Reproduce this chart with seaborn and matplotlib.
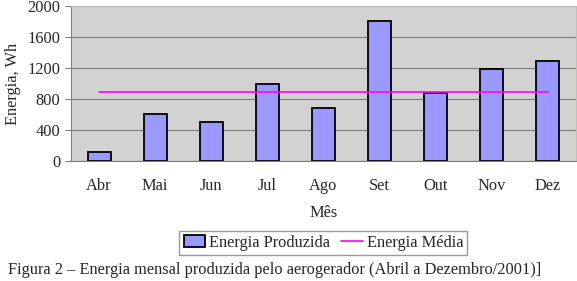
import matplotlib
matplotlib.use("Agg")
import matplotlib.pyplot as plt
import seaborn as sns
import pandas as pd

meses = ["Abr", "Mai", "Jun", "Jul", "Ago", "Set", "Out", "Nov", "Dez"]
energia_produzida = [120, 610, 500, 990, 680, 1800, 880, 1190, 1290]
energia_media = [896] * len(meses)

df = pd.DataFrame({"Mes": meses, "Energia": energia_produzida, "Media": energia_media})

sns.set_style("white")
plt.rcParams["font.family"] = ["Liberation Serif", "DejaVu Serif"]
fs = 11.8

fig = plt.figure(figsize=(5.77, 2.81), dpi=100)
ax = fig.add_axes([0.123, 0.427, 0.875, 0.552])
ax.set_facecolor("#d2d2d2")

sns.barplot(data=df, x="Mes", y="Energia", color="#9999ff", edgecolor="black",
            linewidth=1.3, width=0.41, saturation=1, ax=ax, label="Energia Produzida")
sns.lineplot(x=list(range(len(meses))), y=df["Media"], color="#ff00ff", linewidth=1.2,
             ax=ax, label="Energia Média")

ax.set_xlim(-0.5, len(meses) - 0.5)
ax.set_ylim(0, 2000)
ax.set_yticks(range(0, 2001, 400))
ax.yaxis.grid(True, color="#808080", linewidth=0.8)
ax.set_axisbelow(True)
for s in ["top", "right"]:
    ax.spines[s].set_color("#c0c0c0")
for s in ["left", "bottom"]:
    ax.spines[s].set_color("#808080")

ax.set_xticks(range(len(meses)))
ax.set_xticklabels(meses)
ax.set_xticks([i - 0.5 for i in range(len(meses) + 1)], minor=True)
ax.tick_params(axis="x", which="major", length=0, pad=12, labelsize=fs)
ax.tick_params(axis="x", which="minor", length=4, color="#808080", direction="out")
ax.tick_params(axis="y", length=4, color="#808080", direction="out", left=True, labelsize=fs)

ax.set_xlabel("Mês", fontsize=fs, labelpad=8)
ax.set_ylabel("Energia, Wh", fontsize=fs, labelpad=5)

handles, labels = ax.get_legend_handles_labels()
order = [labels.index("Energia Produzida"), labels.index("Energia Média")]
ax.legend([handles[i] for i in order], [labels[i] for i in order],
          loc="upper center", bbox_to_anchor=(0.5, -0.45), ncol=2, frameon=True,
          fancybox=False, edgecolor="#808080", fontsize=fs, handlelength=1.3,
          handletextpad=0.25, columnspacing=0.7, borderpad=0.25, borderaxespad=0)

fig.text(0.014, 0.039, "Figura 2 – Energia mensal produzida pelo aerogerador (Abril a Dezembro/2001)]",
         fontsize=fs, va="center")

fig.savefig("out.png", dpi=100)
